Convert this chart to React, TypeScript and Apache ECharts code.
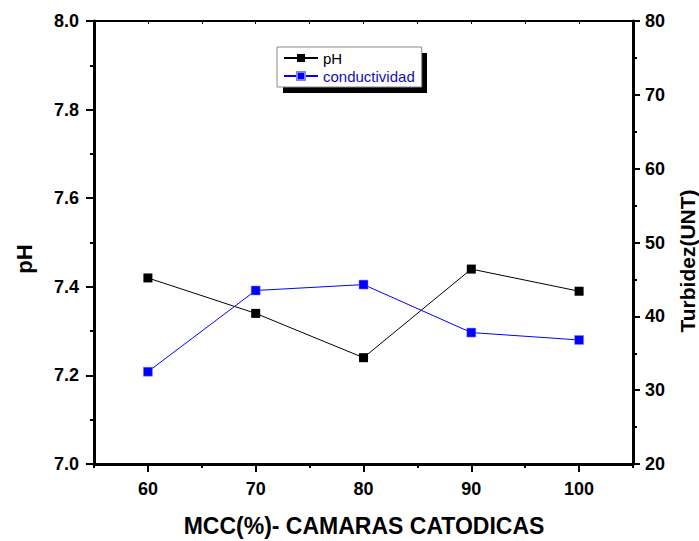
import React, { useEffect, useRef } from "react";
import * as echarts from "echarts";

const mcc = [60, 70, 80, 90, 100];
const phValues = [7.42, 7.34, 7.24, 7.44, 7.39];
const turbidezValues = [32.5, 43.5, 44.3, 37.8, 36.8];
const xMajorTicks = [60, 70, 80, 90, 100];
const seriesNames = ["pH", "conductividad"];
const xTitle = "MCC(%)- CAMARAS CATODICAS";
const yLeftTitle = "pH";
const yRightTitle = "Turbidez(UNT)";

const FONT = "'Liberation Sans', Arial, sans-serif";

export default function App() {
  const ref = useRef<HTMLDivElement>(null);
  useEffect(() => {
    if (!ref.current) return;
    const chart = echarts.init(ref.current, null, { renderer: "svg" });
    const labelStyle = {
      color: "#000",
      fontSize: 18,
      fontWeight: "bold" as const,
      fontFamily: FONT,
    };
    const option: any = {
      animation: false,
      backgroundColor: "#fff",
      grid: { left: 94, right: 66, top: 21, bottom: 77 },
      xAxis: [
        {
          type: "value",
          min: 55,
          max: 105,
          interval: 5,
          position: "bottom",
          axisLine: { show: true, onZero: false, lineStyle: { color: "#000", width: 3 } },
          axisTick: { show: true, length: 4, lineStyle: { color: "#000", width: 2 } },
          axisLabel: {
            ...labelStyle,
            margin: 16,
            formatter: (v: number) => (xMajorTicks.indexOf(v) >= 0 ? String(v) : ""),
          },
          splitLine: { show: false },
        },
        {
          type: "value",
          min: 55,
          max: 105,
          interval: 5,
          position: "bottom",
          axisLine: { show: false, onZero: false },
          axisTick: { show: true, customValues: xMajorTicks, length: 8, lineStyle: { color: "#000", width: 2 } },
          axisLabel: { show: false },
          splitLine: { show: false },
        },
        {
          type: "value",
          min: 55,
          max: 105,
          interval: 5,
          position: "top",
          axisLine: { show: true, onZero: false, lineStyle: { color: "#000", width: 2 } },
          axisTick: { show: true, inside: true, length: 3, lineStyle: { color: "#000", width: 1 } },
          axisLabel: { show: false },
          splitLine: { show: false },
        },
      ],
      yAxis: [
        {
          type: "value",
          min: 7.0,
          max: 8.0,
          interval: 0.2,
          position: "left",
          axisLine: { show: true, onZero: false, lineStyle: { color: "#000", width: 3 } },
          axisTick: { show: true, length: 8, lineStyle: { color: "#000", width: 2 } },
          minorTick: { show: true, splitNumber: 2, length: 4, lineStyle: { color: "#000", width: 2 } },
          axisLabel: { ...labelStyle, margin: 15, formatter: (v: number) => v.toFixed(1) },
          splitLine: { show: false },
          minorSplitLine: { show: false },
        },
        {
          type: "value",
          min: 20,
          max: 80,
          interval: 10,
          position: "right",
          axisLine: { show: true, onZero: false, lineStyle: { color: "#000", width: 3 } },
          axisTick: { show: true, length: 7, lineStyle: { color: "#000", width: 2 } },
          minorTick: { show: true, splitNumber: 2, length: 4, lineStyle: { color: "#000", width: 2 } },
          axisLabel: { ...labelStyle, margin: 12 },
          splitLine: { show: false },
          minorSplitLine: { show: false },
        },
      ],
      legend: {
        orient: "vertical",
        left: 277,
        top: 47,
        backgroundColor: "#fff",
        borderColor: "#888",
        borderWidth: 1,
        borderRadius: 0,
        padding: [3, 7, 3, 6],
        itemWidth: 34,
        itemHeight: 10,
        itemGap: 2,
        textStyle: { fontSize: 15, fontFamily: FONT, lineHeight: 16 },
        data: [
          { name: seriesNames[0], textStyle: { color: "#000" } },
          { name: seriesNames[1], textStyle: { color: "#1010b0" } },
        ],
      },
      graphic: [
        {
          type: "rect",
          z: 1,
          shape: { x: 283, y: 53, width: 144, height: 40 },
          style: { fill: "#000" },
        },
        {
          type: "text",
          x: 364,
          y: 526,
          style: {
            text: xTitle,
            fontSize: 23,
            fontWeight: "bold",
            fontFamily: FONT,
            fill: "#000",
            align: "center",
            verticalAlign: "middle",
          },
        },
        {
          type: "text",
          x: 24,
          y: 259,
          rotation: Math.PI / 2,
          style: {
            text: yLeftTitle,
            fontSize: 22,
            fontWeight: "bold",
            fontFamily: FONT,
            fill: "#000",
            align: "center",
            verticalAlign: "middle",
          },
        },
        {
          type: "text",
          x: 687,
          y: 261,
          rotation: Math.PI / 2,
          style: {
            text: yRightTitle,
            fontSize: 21,
            fontWeight: "bold",
            fontFamily: FONT,
            fill: "#000",
            align: "center",
            verticalAlign: "middle",
          },
        },
      ],
      series: [
        {
          name: seriesNames[0],
          type: "line",
          xAxisIndex: 0,
          yAxisIndex: 0,
          data: mcc.map((x, i) => [x, phValues[i]]),
          symbol: "rect",
          symbolSize: 9,
          lineStyle: { color: "#000", width: 1 },
          itemStyle: { color: "#000" },
        },
        {
          name: seriesNames[1],
          type: "line",
          xAxisIndex: 0,
          yAxisIndex: 1,
          data: mcc.map((x, i) => [x, turbidezValues[i]]),
          symbol: "rect",
          symbolSize: 9,
          lineStyle: { color: "#0000ff", width: 1 },
          itemStyle: { color: "#0000ff", borderColor: "#8080ff", borderWidth: 0.5 },
        },
      ],
    };
    chart.setOption(option);
    return () => chart.dispose();
  }, []);
  return <div ref={ref} style={{ width: 699, height: 541, position: "absolute", left: 0, top: 0 }} />;
}
